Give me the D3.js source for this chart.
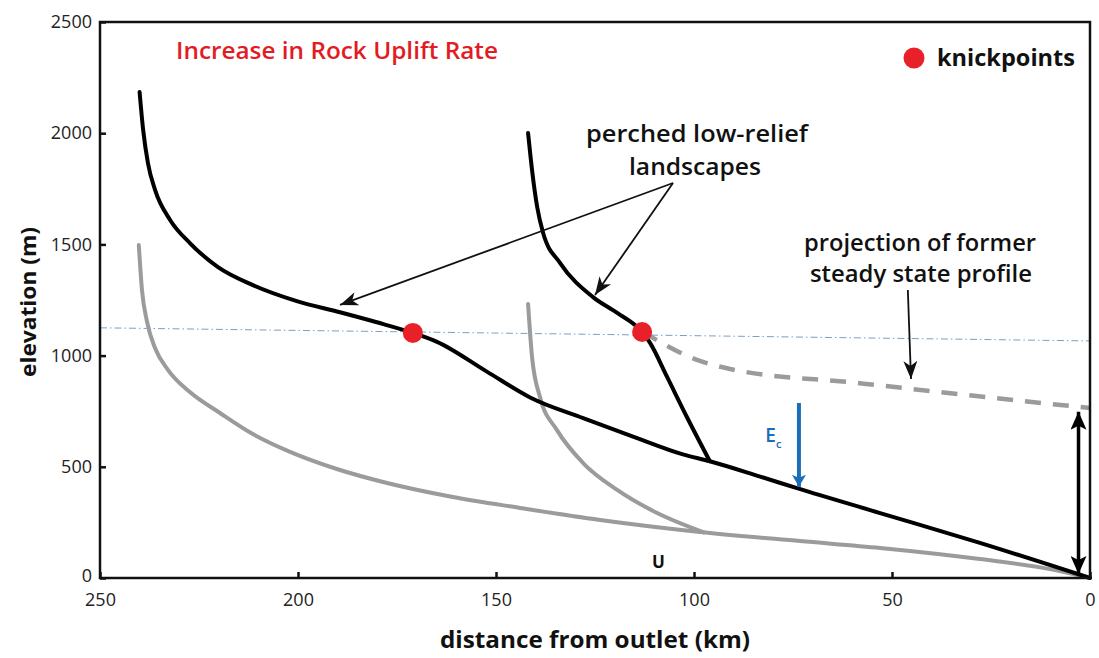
<!DOCTYPE html>
<html>
<head>
<meta charset="utf-8">
<script src="https://cdn.jsdelivr.net/npm/d3@7"></script>
<style>
  body { margin: 0; background: #fff; }
  text { font-family: "Open Sans", "Noto Sans", sans-serif; }
</style>
</head>
<body>
<div id="chart"></div>
<script>
// profiles: [distance from outlet (km), elevation (m)]
const newProfileMain = [[240,2185],[239.1,2014],[237.9,1866],[236.1,1745],[232.3,1610],[227.3,1506],[220.2,1398],[211.4,1317],[200.3,1245],[189.4,1195],[180.1,1150],[171,1102],[164.9,1062],[152.3,928],[141.4,812],[128,719],[115.4,636],[102.8,556],[96,525],[83.3,456],[74,404],[53,292],[27.8,158],[0,0]];
const newProfileTrib = [[141.9,2001],[140.9,1835],[139.6,1668],[138.1,1551],[133.8,1416],[125.5,1263],[119.4,1192],[113.1,1106],[111.1,1057],[106.8,904],[101.8,724],[96,525]];
const oldProfileMain = [[240.2,1497],[239.4,1295],[238.1,1151],[236.1,1034],[232.8,935],[227.3,836],[219.7,742],[211.4,647],[202,567],[190.2,490],[177.5,427],[160.9,364],[143.9,315],[123.7,261],[98.5,207],[73.2,166],[53,135],[27.8,85],[10.1,40],[0,0]];
const oldProfileTrib = [[141.9,1232],[140.9,994],[138.9,814],[134.6,665],[128,517],[119.4,396],[109.3,292],[97.5,205]];
const formerSteadyState = [[112.9,1106],[98.5,976],[90.9,940],[58.8,877],[31.1,823],[0,764]];
const knickpoints = [[171,1102],[113.1,1106]];
const knickLevel = [[250,1125],[0,1066]];

const xTicks = [250, 200, 150, 100, 50, 0];
const yTicks = [0, 500, 1000, 1500, 2000, 2500];

const W = 1099, H = 658;
const x = d3.scaleLinear().domain([250, 0]).range([100, 1090]);
const y = d3.scaleLinear().domain([0, 2500]).range([578, 22]);

const svg = d3.select("#chart").append("svg")
  .attr("width", W).attr("height", H)
  .style("background", "#fff");

const defs = svg.append("defs");
function marker(id, color, len, half, notch) {
  defs.append("marker")
    .attr("id", id)
    .attr("markerUnits", "userSpaceOnUse")
    .attr("viewBox", `${-len} ${-half} ${len} ${half * 2}`)
    .attr("markerWidth", len).attr("markerHeight", half * 2)
    .attr("refX", 0).attr("refY", 0)
    .attr("orient", "auto-start-reverse")
    .append("path")
    .attr("d", `M0,0L${-len},${-half}L${-len + notch},0L${-len},${half}Z`)
    .attr("fill", color);
}
marker("thinHead", "#111", 18, 7, 5);
marker("boldHead", "#000", 18, 8, 4);
marker("blueHead", "#1c6db8", 12, 7, 3);

const line = d3.line()
  .x(d => x(d[0])).y(d => y(d[1]))
  .curve(d3.curveMonotoneX);

// knickpoint elevation guide
svg.append("path")
  .attr("d", d3.line().x(d => x(d[0])).y(d => y(d[1]))(knickLevel))
  .attr("fill", "none").attr("stroke", "#7b9fc4").attr("stroke-width", 1)
  .attr("stroke-dasharray", "7,3,1.5,3");

// old (grey) profiles
[oldProfileMain, oldProfileTrib].forEach(p => {
  svg.append("path").attr("d", line(p))
    .attr("fill", "none").attr("stroke", "#9b9b9b")
    .attr("stroke-width", 4).attr("stroke-linecap", "round");
});

svg.append("path").attr("d", line(formerSteadyState))
  .attr("fill", "none").attr("stroke", "#9b9b9b")
  .attr("stroke-width", 4.5).attr("stroke-dasharray", "16,12");

// new (black) profiles
[newProfileMain, newProfileTrib].forEach(p => {
  svg.append("path").attr("d", line(p))
    .attr("fill", "none").attr("stroke", "#000")
    .attr("stroke-width", 4).attr("stroke-linecap", "round")
    .attr("stroke-linejoin", "round");
});

svg.selectAll("circle.kp").data(knickpoints).enter()
  .append("circle").attr("class", "kp")
  .attr("cx", d => x(d[0])).attr("cy", d => y(d[1]))
  .attr("r", 10).attr("fill", "#e8202a");

// annotation arrows (data coordinates)
const arrows = [
  { from: [105.3, 1776], to: [189.4, 1228], w: 1.8, head: "thinHead", color: "#111" },
  { from: [105.3, 1776], to: [125, 1272], w: 1.8, head: "thinHead", color: "#111" },
  { from: [46, 1295], to: [45.2, 895], w: 1.8, head: "thinHead", color: "#111" },
  { from: [73.5, 787], to: [73.5, 410], w: 4, head: "blueHead", color: "#1c6db8" }
];
arrows.forEach(a => {
  svg.append("line")
    .attr("x1", x(a.from[0])).attr("y1", y(a.from[1]))
    .attr("x2", x(a.to[0])).attr("y2", y(a.to[1]))
    .attr("stroke", a.color).attr("stroke-width", a.w)
    .attr("marker-end", `url(#${a.head})`);
});
// uplift double arrow
svg.append("line")
  .attr("x1", x(2.9)).attr("y1", y(748))
  .attr("x2", x(2.9)).attr("y2", y(18))
  .attr("stroke", "#000").attr("stroke-width", 3.5)
  .attr("marker-start", "url(#boldHead)").attr("marker-end", "url(#boldHead)");

// axes
const gx = svg.append("g").attr("transform", `translate(0,${y(0)})`)
  .call(d3.axisBottom(x).tickValues(xTicks).tickSizeInner(-6).tickSizeOuter(0).tickPadding(15).tickFormat(d3.format("d")));
const gy = svg.append("g").attr("transform", `translate(${x(250)},0)`)
  .call(d3.axisLeft(y).tickValues(yTicks).tickSizeInner(-6).tickSizeOuter(0).tickPadding(8).tickFormat(d3.format("d")));
[gx, gy].forEach(g => {
  g.select(".domain").remove();
  g.selectAll(".tick line").attr("stroke", "#111").attr("stroke-width", 2.5);
  g.selectAll(".tick text").attr("font-size", 18).attr("fill", "#222")
    .style("font-family", "'Open Sans', sans-serif");
});
gy.selectAll(".tick text").filter(d => d === 0).attr("dy", "0.2em");

// frame
svg.append("rect")
  .attr("x", x(250)).attr("y", y(2500))
  .attr("width", x(0) - x(250)).attr("height", y(0) - y(2500))
  .attr("fill", "none").attr("stroke", "#111").attr("stroke-width", 2.5);

// texts
const squeeze = (t, len) => t.attr("textLength", len).attr("lengthAdjust", "spacingAndGlyphs");

squeeze(svg.append("text").attr("x", 176).attr("y", 59)
  .attr("font-size", 24).attr("font-weight", 600).attr("fill", "#e31b23")
  .text("Increase in Rock Uplift Rate"), 322);

svg.append("circle").attr("cx", 914).attr("cy", 58).attr("r", 10.5).attr("fill", "#e8202a");
squeeze(svg.append("text").attr("x", 937).attr("y", 66)
  .attr("font-size", 23).attr("font-weight", 700).attr("fill", "#111")
  .text("knickpoints"), 138);

const label = (tx, ty, s, len) => squeeze(svg.append("text").attr("x", tx).attr("y", ty)
    .attr("text-anchor", "middle").attr("font-size", 23).attr("font-weight", 600)
    .attr("fill", "#111").text(s), len);
label(697, 142, "perched low-relief", 222);
label(695, 175, "landscapes", 132);
label(920, 251, "projection of former", 232);
label(921, 282, "steady state profile", 222);

svg.append("text").attr("x", x(82)).attr("y", y(610))
  .attr("font-size", 19).attr("font-weight", 600).attr("fill", "#1c6db8").text("E")
  .append("tspan").attr("font-size", 11).attr("dy", 6).text("c");

svg.append("text").attr("x", x(109)).attr("y", y(45))
  .attr("text-anchor", "middle").attr("font-size", 17).attr("font-weight", 700)
  .attr("fill", "#111").text("U");

squeeze(svg.append("text")
  .attr("transform", `translate(36,${(y(0) + y(2500)) / 2 + 2}) rotate(-90)`)
  .attr("text-anchor", "middle").attr("font-size", 22).attr("font-weight", 700)
  .attr("fill", "#111").text("elevation (m)"), 150);

squeeze(svg.append("text").attr("x", 595).attr("y", 648)
  .attr("text-anchor", "middle").attr("font-size", 24).attr("font-weight", 700)
  .attr("fill", "#111").text("distance from outlet (km)"), 310);
</script>
</body>
</html>
